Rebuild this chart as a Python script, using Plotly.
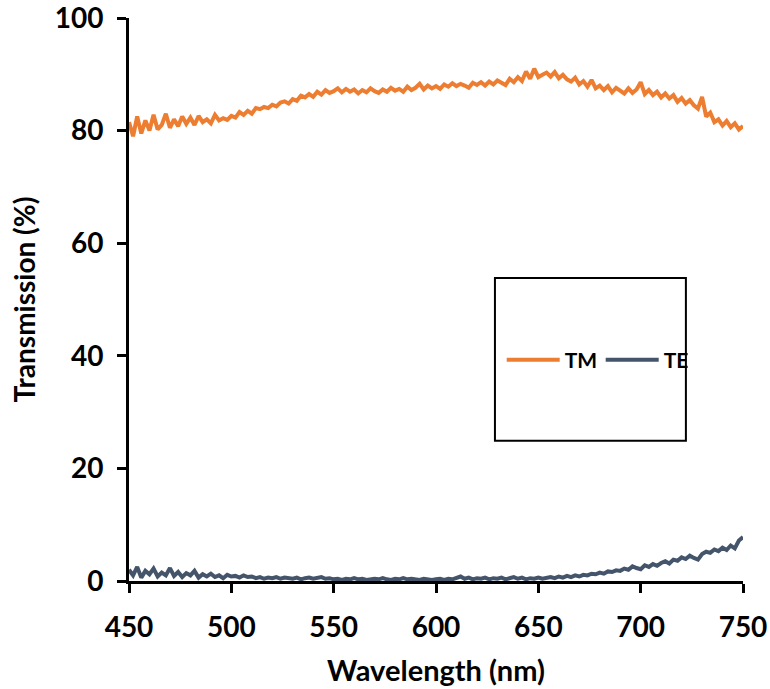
import plotly.graph_objects as go

# Wavelength sampling grid (nm)
wavelength = list(range(450, 751, 2))

# TM transmission (%)
tm = [
    81.5, 79.0, 82.5, 79.5, 81.8, 80.0, 82.8, 80.2, 81.0, 83.0,
    80.5, 82.0, 80.8, 82.5, 81.2, 82.3, 81.0, 82.6, 81.5, 82.0,
    81.3, 82.8, 81.8, 82.2, 81.9, 82.6, 82.3, 83.3, 82.8, 83.5,
    83.0, 84.0, 83.8, 84.2, 84.0, 84.6, 84.3, 85.0, 85.2, 84.8,
    85.6, 85.3, 86.2, 85.9, 86.5, 86.0, 86.9, 86.4, 87.2, 86.7,
    87.0, 87.5, 86.8, 87.4, 86.9, 87.3, 86.6, 87.2, 86.8, 87.5,
    87.0, 86.7, 87.3, 86.9, 87.6, 87.1, 87.4, 86.9, 87.8, 87.2,
    87.6, 88.3, 87.3, 88.0, 87.5, 87.9, 87.4, 88.2, 87.8, 88.4,
    87.9, 88.3, 88.0, 87.6, 88.5, 88.1, 88.6, 88.0, 88.7, 88.2,
    88.9, 88.4, 88.1, 89.2, 88.6, 89.5, 88.8, 90.5, 89.2, 91.0,
    89.5, 89.9, 90.3, 89.6, 90.4, 89.3, 89.9, 89.1, 88.7, 89.4,
    88.2, 88.8, 87.8, 89.0, 87.5, 88.0, 87.2, 87.9, 86.8, 87.6,
    87.1, 86.6, 87.5, 86.7, 87.3, 88.6, 86.5, 87.2, 86.3, 86.9,
    85.9, 86.6, 85.7, 86.3, 85.1, 85.8, 84.8, 85.4, 84.5, 83.9,
    86.0, 82.5, 83.2, 81.5, 82.0, 80.9, 81.7, 80.6, 81.3, 80.2,
    80.8,
]

# TE transmission (%)
te = [
    2.0, 1.0, 2.5, 0.6, 1.8, 1.2, 2.2, 0.8, 1.5, 1.0,
    2.3, 0.9, 1.6, 0.7, 1.4, 1.0, 1.8, 0.6, 1.2, 0.8,
    1.3, 0.7, 1.0, 0.5, 1.1, 0.8, 0.9, 0.6, 1.0, 0.7,
    0.8, 0.5, 0.7, 0.4, 0.6, 0.5, 0.7, 0.4, 0.6, 0.5,
    0.4, 0.6, 0.3, 0.5, 0.6, 0.4, 0.5, 0.7, 0.4, 0.5,
    0.3, 0.4, 0.2, 0.4, 0.3, 0.5, 0.3, 0.4, 0.2, 0.3,
    0.4, 0.3, 0.5, 0.3, 0.2, 0.4, 0.3, 0.5, 0.3, 0.4,
    0.3, 0.2, 0.4, 0.3, 0.2, 0.3, 0.4, 0.2, 0.4, 0.3,
    0.5, 0.8, 0.4, 0.6, 0.3, 0.5, 0.4, 0.6, 0.3, 0.5,
    0.4, 0.6, 0.3, 0.5, 0.7, 0.4, 0.6, 0.3, 0.5, 0.4,
    0.6, 0.4, 0.5, 0.7, 0.5, 0.8, 0.6, 0.9, 0.7, 1.0,
    0.8, 1.1, 1.0, 1.3, 1.2, 1.5, 1.3, 1.7, 1.6, 1.9,
    1.8, 2.2, 2.0, 2.6, 2.3, 2.1, 2.8, 2.5, 3.0, 2.7,
    3.2, 3.5, 3.1, 3.8, 3.6, 4.2, 3.9, 4.5, 4.1, 3.8,
    4.8, 5.2, 5.0, 5.6, 5.3, 5.9, 5.5, 6.3, 5.8, 7.2,
    7.8,
]

x_ticks = [450, 500, 550, 600, 650, 700, 750]
y_ticks = [0, 20, 40, 60, 80, 100]

FONT = "Lato"
TICK_FONT = dict(family=FONT, size=28, color="black", weight=700)
XTITLE_FONT = dict(family=FONT, size=29, color="black", weight=700)
YTITLE_FONT = dict(family=FONT, size=28, color="black", weight=700)

fig = go.Figure()
fig.add_trace(go.Scatter(x=wavelength, y=tm, mode="lines", name="TM",
                         line=dict(color="#ED7D31", width=4)))
fig.add_trace(go.Scatter(x=wavelength, y=te, mode="lines", name="TE",
                         line=dict(color="#44546A", width=4)))

axis_common = dict(
    showline=True, linecolor="black", linewidth=3,
    ticks="outside", ticklen=9, tickwidth=3, tickcolor="black",
    showgrid=False, zeroline=False, automargin=False,
    ticklabeloverflow="allow",
    tickfont=TICK_FONT,
)

fig.update_xaxes(range=[450, 750], tickvals=x_ticks, ticklabelstandoff=10,
                 title=dict(text="Wavelength (nm)", standoff=20, font=XTITLE_FONT),
                 **axis_common)
fig.update_yaxes(range=[0, 100], tickvals=y_ticks, ticklabelstandoff=8,
                 title=dict(text="Transmission (%)", standoff=11, font=YTITLE_FONT),
                 **axis_common)

# Framed legend box
fig.add_shape(type="rect", xref="paper", yref="paper",
              x0=0.596, x1=0.907, y0=0.249, y1=0.538,
              line=dict(color="black", width=2), fillcolor="white", layer="below")

fig.update_layout(
    width=770, height=689,
    margin=dict(l=129, r=27, t=18, b=108),
    plot_bgcolor="white", paper_bgcolor="white",
    legend=dict(orientation="h", x=0.607, y=0.3925, xanchor="left", yanchor="middle",
                bgcolor="rgba(0,0,0,0)",
                font=dict(family=FONT, size=21, color="black", weight=700),
                itemwidth=53, entrywidth=31),
    showlegend=True,
)

fig.write_html("out.html")
